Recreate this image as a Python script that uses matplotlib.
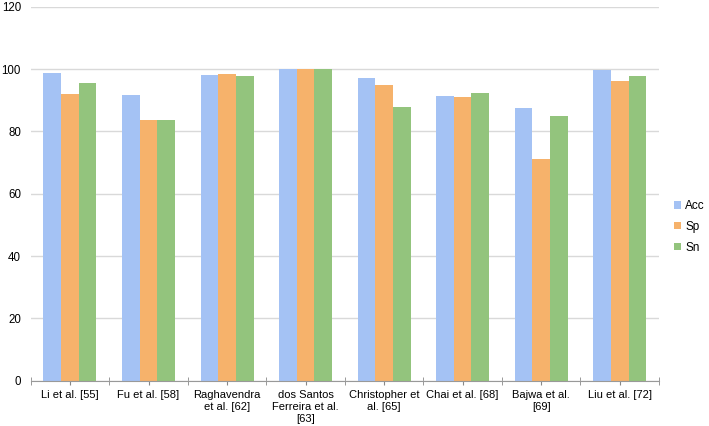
import matplotlib
matplotlib.use("Agg")
import matplotlib.pyplot as plt
import numpy as np

categories = ["Li et al. [55]", "Fu et al. [58]", "Raghavendra\net al. [62]",
              "dos Santos\nFerreira et al.\n[63]", "Christopher et\nal. [65]",
              "Chai et al. [68]", "Bajwa et al.\n[69]", "Liu et al. [72]"]
acc = [98.6, 91.7, 98.1, 100.0, 97.0, 91.4, 87.4, 99.6]
sp = [91.9, 83.6, 98.3, 100.0, 95.0, 90.9, 71.1, 96.2]
sn = [95.6, 83.6, 97.9, 100.0, 87.9, 92.3, 84.9, 97.7]
series_names = ["Acc", "Sp", "Sn"]
colors = ["#a4c2f4", "#f6b26b", "#93c47d"]
yticks = [0, 20, 40, 60, 80, 100, 120]

plt.rcParams['font.family'] = ['Liberation Sans', 'DejaVu Sans']

fig = plt.figure(figsize=(7.09, 4.26), dpi=100)
ax = fig.add_axes([30.7/709, 1-380.7/426, (659-30.7)/709, (380.7-6.7)/426])

x = np.arange(len(categories))
w = 0.225
for i, (vals, name, c) in enumerate(zip([acc, sp, sn], series_names, colors)):
    ax.bar(x + (i-1)*w, vals, w, color=c, label=name, zorder=2)

ax.set_xlim(-0.5, len(categories)-0.5)
ax.set_ylim(0, 120)
ax.set_yticks(yticks)
ax.yaxis.grid(True, color="#d9d9d9", linewidth=1, zorder=0)
ax.tick_params(axis='y', length=0, labelsize=8.3, pad=7)
ax.set_xticks(x)
ax.set_xticklabels(categories, fontsize=8, linespacing=1.25)
ax.set_xticks(np.arange(len(categories)+1) - 0.5, minor=True)
ax.tick_params(axis='x', which='major', length=3, color="#888888", direction='out', pad=4)
ax.tick_params(axis='x', which='minor', length=6, color="#888888", direction='inout')
for s in ["left", "right", "top"]:
    ax.spines[s].set_visible(False)
ax.spines["bottom"].set_color("#999999")
ax.spines["bottom"].set_zorder(3)

fig.legend(loc="upper left", bbox_to_anchor=(674/709, 1-200/426), frameon=False,
           fontsize=8.5, handlelength=0.6, handleheight=0.6, handletextpad=0.35,
           labelspacing=0.75, borderpad=0, borderaxespad=0)

fig.savefig("out.png", dpi=100)
